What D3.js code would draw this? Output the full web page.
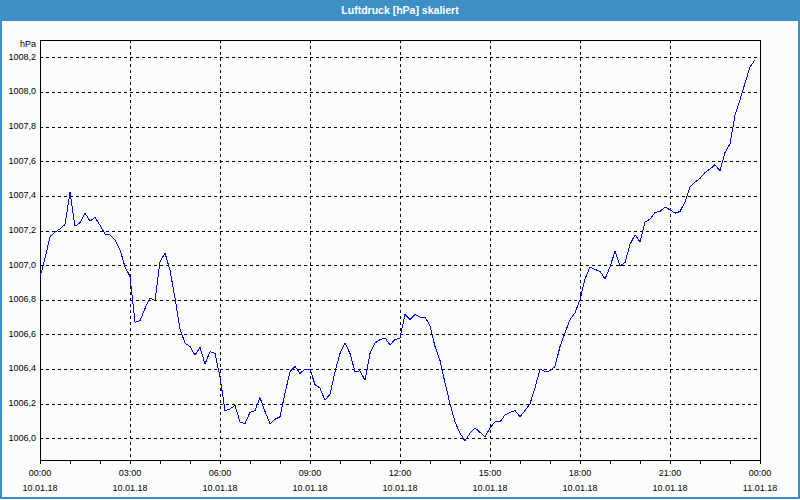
<!DOCTYPE html>
<html><head><meta charset="utf-8">
<script src="https://cdn.jsdelivr.net/npm/d3@7"></script>
<style>
html,body{margin:0;padding:0;background:#fff;}
svg{display:block;font-family:"Liberation Sans",Arial,sans-serif;}
</style></head>
<body>
<svg id="chart" width="800" height="500"></svg>
<script>
const title = "Luftdruck [hPa] skaliert";
const unitLabel = "hPa";
const startTime = "2018-01-10T00:00:00Z";
const endTime = "2018-01-11T00:00:00Z";
const stepMinutes = 10;
const yTicks = [1006.0,1006.2,1006.4,1006.6,1006.8,1007.0,1007.2,1007.4,1007.6,1007.8,1008.0,1008.2];
const yDomain = [1005.875, 1008.3];
const pressure = [
1006.93,1007.04,1007.165,1007.19,1007.21,1007.235,1007.42,1007.225,1007.245,1007.30,
1007.255,1007.275,1007.23,1007.18,1007.175,1007.145,1007.09,1006.99,1006.935,1006.67,
1006.68,1006.75,1006.81,1006.795,1007.02,1007.07,1006.97,1006.81,1006.63,1006.55,
1006.53,1006.48,1006.525,1006.43,1006.50,1006.49,1006.355,1006.16,1006.17,1006.19,
1006.095,1006.085,1006.15,1006.16,1006.235,1006.155,1006.085,1006.11,1006.125,1006.26,
1006.385,1006.415,1006.375,1006.40,1006.40,1006.31,1006.29,1006.22,1006.255,1006.385,
1006.49,1006.55,1006.49,1006.385,1006.39,1006.335,1006.49,1006.55,1006.57,1006.58,
1006.54,1006.57,1006.58,1006.715,1006.685,1006.715,1006.70,1006.70,1006.65,1006.53,
1006.45,1006.32,1006.20,1006.095,1006.03,1005.985,1006.03,1006.06,1006.035,1006.01,
1006.06,1006.095,1006.095,1006.135,1006.15,1006.16,1006.125,1006.16,1006.20,1006.29,
1006.40,1006.385,1006.39,1006.415,1006.53,1006.61,1006.685,1006.725,1006.80,1006.92,
1006.99,1006.975,1006.965,1006.92,1006.99,1007.08,1006.995,1007.015,1007.12,1007.175,
1007.135,1007.25,1007.265,1007.305,1007.31,1007.335,1007.32,1007.30,1007.31,1007.365,
1007.45,1007.48,1007.50,1007.535,1007.555,1007.58,1007.545,1007.65,1007.70,1007.865,
1007.955,1008.05,1008.145,1008.185
];

const W = 800, H = 500;
const m = {left: 40, top: 40, right: 760, bottom: 460};
const svg = d3.select("#chart");

// background & frame
svg.append("rect").attr("x",0).attr("y",0).attr("width",W).attr("height",H).attr("fill","#fbfdfc");
svg.append("rect").attr("x",0).attr("y",0).attr("width",W).attr("height",21).attr("fill","#3d8fc6");
svg.append("rect").attr("x",1).attr("y",1).attr("width",W-2).attr("height",H-3)
  .attr("fill","none").attr("stroke","#3d8fc6").attr("stroke-width",2);
svg.append("text").attr("x",W/2).attr("y",11).attr("text-anchor","middle")
  .attr("dominant-baseline","middle").attr("fill","#fff").attr("font-size","10.5px")
  .attr("font-weight","bold").text(title);

const t0 = new Date(startTime), t1 = new Date(endTime);
const data = pressure.map((v,i)=>({t: d3.utcMinute.offset(t0, i*stepMinutes), v}));

const x = d3.scaleUtc().domain([t0,t1]).range([m.left, m.right]);
const y = d3.scaleLinear().domain(yDomain).range([m.bottom, m.top]);

// grid
const g = svg.append("g").attr("shape-rendering","crispEdges");
const majorTicks = d3.utcHour.every(3).range(t0, d3.utcMinute.offset(t1,1));
majorTicks.forEach(d=>{
  const px = Math.round(x(d))+0.5;
  if (px > m.left+1 && px < m.right-1)
    g.append("line").attr("x1",px).attr("x2",px).attr("y1",m.top).attr("y2",m.bottom)
     .attr("stroke","#000").attr("stroke-dasharray","3,3");
});
yTicks.forEach(v=>{
  const py = Math.round(y(v))+0.5;
  g.append("line").attr("x1",m.left).attr("x2",m.right).attr("y1",py).attr("y2",py)
   .attr("stroke","#000").attr("stroke-dasharray","3,3");
});

// line
const line = d3.line().x(d=>x(d.t)).y(d=>y(d.v));
svg.append("path").datum(data).attr("d",line).attr("fill","none")
  .attr("stroke","#0000ff").attr("stroke-width",1).attr("shape-rendering","crispEdges");

// frame
g.append("rect").attr("x",m.left+0.5).attr("y",m.top+0.5)
  .attr("width",m.right-m.left).attr("height",m.bottom-m.top)
  .attr("fill","none").attr("stroke","#000");

// x axis ticks and labels
const minorTicks = d3.utcHour.every(1).range(t0, d3.utcMinute.offset(t1,1));
minorTicks.forEach(d=>{
  const px = Math.round(x(d))+0.5;
  g.append("line").attr("x1",px).attr("x2",px).attr("y1",m.bottom).attr("y2",m.bottom+4)
   .attr("stroke","#000");
});
const fTime = d3.utcFormat("%H:%M"), fDate = d3.utcFormat("%d.%m.%y");
majorTicks.forEach(d=>{
  const px = x(d);
  svg.append("text").attr("x",px).attr("y",474).attr("text-anchor","middle")
    .attr("dominant-baseline","middle").attr("font-size","9px").attr("fill","#000").text(fTime(d));
  svg.append("text").attr("x",px).attr("y",489).attr("text-anchor","middle")
    .attr("dominant-baseline","middle").attr("font-size","9px").attr("fill","#000").text(fDate(d));
});

// y labels
const fy = v => d3.format(".1f")(v).replace(".",",");
yTicks.forEach(v=>{
  svg.append("text").attr("x",36).attr("y",y(v)).attr("text-anchor","end")
    .attr("dominant-baseline","middle").attr("font-size","9px").attr("fill","#000").text(fy(v));
});
svg.append("text").attr("x",36).attr("y",45).attr("text-anchor","end")
  .attr("dominant-baseline","middle").attr("font-size","9px").attr("fill","#000").text(unitLabel);
</script>
</body></html>
